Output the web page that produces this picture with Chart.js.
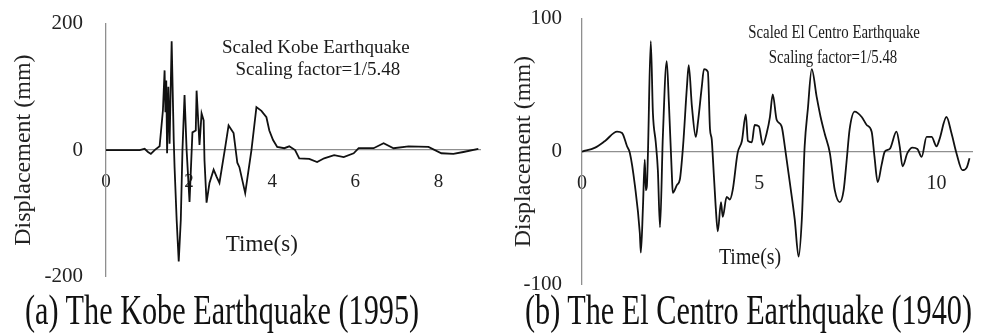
<!DOCTYPE html>
<html>
<head>
<meta charset="utf-8">
<script src="https://cdn.jsdelivr.net/npm/chart.js@4.4.0/dist/chart.umd.min.js"></script>
<style>
html, body { margin: 0; padding: 0; background: #fff; }
#wrap { position: relative; width: 988px; height: 335px; overflow: hidden; }
canvas { position: absolute; top: 0; }
.cap { position: absolute; top: 289px; font-family: "Liberation Serif", serif; font-size: 42px; line-height: 42px;
       white-space: nowrap; color: #111; transform-origin: 0 0; transform: scaleX(0.72); }
</style>
</head>
<body>
<div id="wrap">
  <canvas id="kobe-canvas" width="490" height="370" style="left:0"></canvas>
  <canvas id="centro-canvas" width="498" height="370" style="left:490px"></canvas>
  <div class="cap" style="left:25px">(a) The Kobe Earthquake (1995)</div>
  <div class="cap" style="left:525px">(b) The El Centro Earthquake (1940)</div>
</div>
<script>
// Kobe record (time s, displacement mm)
var kobeTime = [0, 0.81, 0.93, 1.01, 1.08, 1.17, 1.29, 1.37, 1.41, 1.43, 1.45, 1.47, 1.50, 1.53, 1.58,
    1.63, 1.65, 1.70, 1.75, 1.80, 1.84, 1.89, 1.94, 2.01, 2.08, 2.16, 2.18, 2.25, 2.30, 2.35, 2.37,
    2.42, 2.49, 2.59, 2.66, 2.73, 2.87, 2.95, 3.07, 3.16, 3.21, 3.35, 3.50, 3.62, 3.74, 3.86, 3.93,
    4.02, 4.12, 4.29, 4.41, 4.55, 4.65, 4.89, 5.08, 5.25, 5.49, 5.72, 5.96, 6.08, 6.44, 6.68, 6.92,
    7.28, 7.76, 8.07, 8.36, 8.60, 8.96];
var kobeDisp = [0, 0, 2, -3, -6, 0, 6, 63, 126, 60, 110, -5, 100, 10, 172,
    16, -27, -110, -176, -110, 0, 87, 0, -82, 28, 31, 94, 8, 58, 47, -16,
    -83, -52, -31, -42, -52, 5, 39, 27, -20, -27, -68, 0, 68, 62, 52, 31,
    16, 5, 3, 6, 0, -13, -14, -19, -13, -8, -11, -5, 3, 3, 11, 3,
    6, 5, -5, -6, -3, 2];

// El Centro record (time s, displacement mm)
var centroTime = [0, 0.37, 0.65, 0.99, 1.13, 1.27, 1.35, 1.49, 1.63, 1.66, 1.72, 1.77, 1.80, 1.83, 1.86,
    1.94, 2.00, 2.08, 2.14, 2.20, 2.28, 2.39, 2.45, 2.54, 2.56, 2.68, 2.76, 2.85, 2.96, 3.01,
    3.10, 3.21, 3.27, 3.38, 3.44, 3.55, 3.61, 3.66, 3.69, 3.77, 3.83, 3.92, 3.97, 4.08, 4.17,
    4.25, 4.39, 4.51, 4.62, 4.68, 4.79, 4.87, 4.99, 5.10, 5.21, 5.30, 5.38, 5.49, 5.63, 5.72,
    5.86, 6.00, 6.11, 6.20, 6.28, 6.37, 6.48, 6.62, 6.73, 6.85, 6.99, 7.13, 7.27, 7.38, 7.46,
    7.55, 7.69, 7.89, 8.03, 8.17, 8.25, 8.34, 8.45, 8.54, 8.68, 8.87, 8.96, 9.04, 9.18, 9.32,
    9.46, 9.58, 9.72, 9.86, 10.0, 10.08, 10.28, 10.42, 10.56, 10.73, 10.85, 10.93];
var centroDisp = [0, 3, 8, 15, 14, 4, -1, -25, -61, -76, -41, -6, -29, -26, -1,
    83, 29, 7, -14, -57, 11, 68, 37, -21, -31, -25, -21, 4, 49, 65,
    34, 11, 22, 49, 62, 60, 17, 9, -4, -41, -60, -38, -49, -34, -36,
    -29, -1, 8, 28, 8, 7, 20, 19, 5, 14, 26, 43, 24, 19, 4,
    -23, -51, -79, -51, 4, 32, 62, 41, 26, 13, -1, -29, -38, -29, -8,
    17, 30, 26, 20, 15, -4, -23, -10, 0, 2, 15, 4, -11, -1, 3,
    2, -4, 11, 11, 4, 9, 26, 14, -1, -14, -12, -5];

var kobeXTicks = [0, 2, 4, 6, 8];
var centroXTicks = [0, 5, 10];

// draws free text at data coordinates (annotation box, axis name)
var textNotes = {
    id: "textNotes",
    afterDraw: function (chart, args, opts) {
        var ctx = chart.ctx;
        var xs = chart.scales.x, ys = chart.scales.y;
        (opts.items || []).forEach(function (n) {
            ctx.save();
            ctx.font = n.size + "px 'Liberation Serif'";
            ctx.fillStyle = "#1a1a1a";
            ctx.textAlign = "center";
            ctx.textBaseline = "middle";
            ctx.translate(xs.getPixelForValue(n.x), ys.getPixelForValue(n.y));
            ctx.scale(n.sx || 1, 1);
            ctx.fillText(n.text, 0, 0);
            ctx.restore();
        });
    }
};

function makeChart(id, times, disp, xTicks, o) {
    var pts = times.map(function (t, i) { return { x: t, y: disp[i] }; });
    return new Chart(document.getElementById(id), {
        type: "line",
        data: {
            datasets: [{
                data: pts,
                borderColor: "#111",
                borderWidth: 1.8,
                pointRadius: 0,
                fill: false,
                tension: o.tension,
                cubicInterpolationMode: o.interp
            }]
        },
        options: {
            responsive: false,
            maintainAspectRatio: false,
            animation: false,
            events: [],
            layout: { padding: o.padding },
            plugins: {
                legend: { display: false },
                tooltip: { enabled: false },
                textNotes: { items: o.notes }
            },
            scales: {
                x: {
                    type: "linear",
                    position: { y: 0 },
                    min: 0,
                    max: o.xMax,
                    afterBuildTicks: function (s) { s.ticks = xTicks.map(function (v) { return { value: v }; }); },
                    ticks: { padding: o.xPad, color: "#222", font: { family: "Liberation Serif", size: o.xFont } },
                    grid: { drawOnChartArea: false, drawTicks: false },
                    border: { color: "#8f8f8f", width: 1.3 }
                },
                y: {
                    min: -o.yMax,
                    max: o.yMax,
                    afterFit: function (s) { s.width = o.yWidth; },
                    ticks: { stepSize: o.yMax, padding: o.yPad, color: "#222", font: { family: "Liberation Serif", size: o.yFont } },
                    grid: { drawOnChartArea: false, drawTicks: false },
                    border: { color: "#8f8f8f", width: 1.3 },
                    title: {
                        display: true,
                        text: "Displacement (mm)",
                        color: "#222",
                        font: { family: "Liberation Serif", size: 24 },
                        padding: { top: o.titlePad, bottom: 0 }
                    }
                }
            }
        },
        plugins: [textNotes]
    });
}

// the layout keeps some room above the plot; slide the canvas so the
// plot box lands where the figure has it
function pinArea(chart, wantTop, wantBottom) {
    var t = chart.chartArea.top;
    chart.options.layout.padding.bottom = chart.height - (t + (wantBottom - wantTop));
    chart.update();
    chart.canvas.style.top = (wantTop - chart.chartArea.top) + "px";
}

var kobeChart = makeChart("kobe-canvas", kobeTime, kobeDisp, kobeXTicks, {
    tension: 0, interp: "default",
    padding: { left: 0, top: 13, right: 10, bottom: 80 },
    xMax: 9, yMax: 200, yWidth: 106,
    xPad: 21, xFont: 19, yPad: 23, yFont: 21, titlePad: 9,
    notes: [
        { text: "Scaled Kobe Earthquake", x: 5.05, y: 161, size: 19 },
        { text: "Scaling factor=1/5.48", x: 5.1, y: 126, size: 19 },
        { text: "Time(s)", x: 3.75, y: -150, size: 23 }
    ]
});
pinArea(kobeChart, 24, 277);

var centroChart = makeChart("centro-canvas", centroTime, centroDisp, centroXTicks, {
    tension: 0.4, interp: "monotone",
    padding: { left: 0, top: 7, right: 16, bottom: 70 },
    xMax: 11, yMax: 100, yWidth: 92,
    xPad: 20, xFont: 20, yPad: 20, yFont: 21, titlePad: 19.6,
    notes: [
        { text: "Scaled El Centro Earthquake", x: 7.11, y: 89.5, size: 19, sx: 0.78 },
        { text: "Scaling factor=1/5.48", x: 7.08, y: 70.7, size: 19, sx: 0.78 },
        { text: "Time(s)", x: 4.74, y: -80, size: 24, sx: 0.83 }
    ]
});
pinArea(centroChart, 19, 285);
</script>
</body>
</html>
